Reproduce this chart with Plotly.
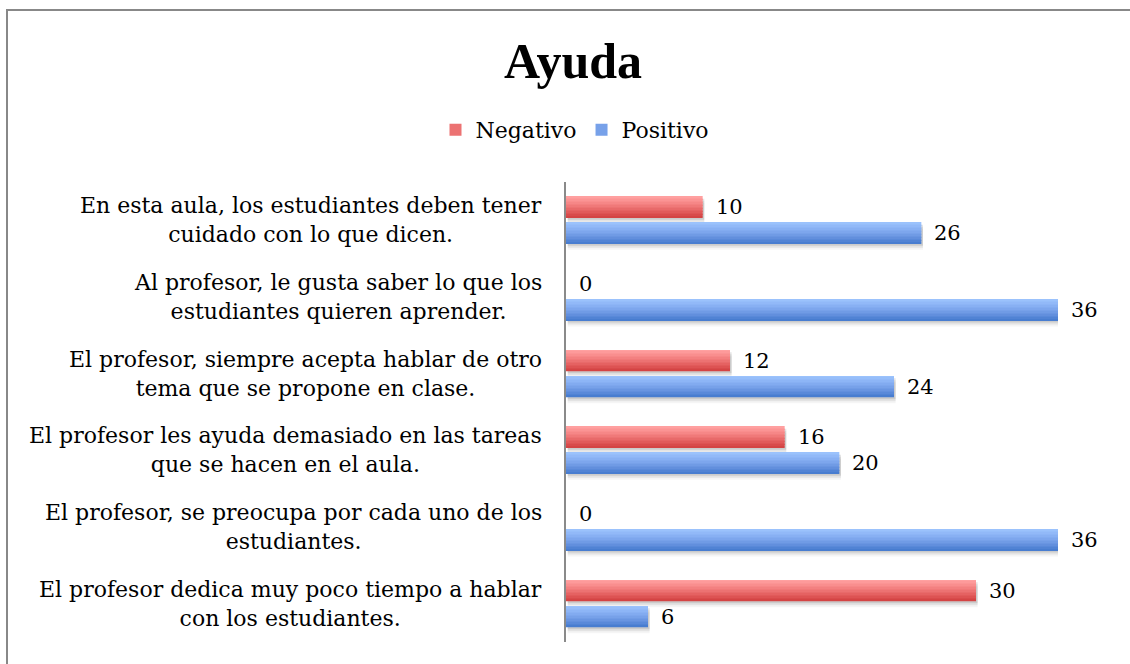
import plotly.graph_objects as go

# ---- data ----
categories = [
    "En esta aula, los estudiantes deben tener<br>cuidado con lo que dicen.",
    "Al profesor, le gusta saber lo que los<br>estudiantes quieren aprender.",
    "El profesor, siempre acepta hablar de otro<br>tema que se propone en clase.",
    "El profesor les ayuda demasiado en las tareas<br>que se hacen en el aula.",
    "El profesor, se preocupa por cada uno de los<br>estudiantes.",
    "El profesor dedica muy poco tiempo a hablar<br>con los estudiantes.",
]
negativo = [10, 0, 12, 16, 0, 30]
positivo = [26, 36, 24, 20, 36, 6]
series_names = ["Negativo", "Positivo"]

# ---- layout geometry (pixels) ----
W, H = 1130, 664
ML, MR, MT, MB = 566, 72, 182, 22
PW, PH = W - ML - MR, H - MT - MB
cat_px = PH / len(categories)
FONT = "DejaVu Serif"
TITLE_FONT = "Liberation Serif"

def px2u(p):
    return p / cat_px

def pxx(px):
    return (px - ML) / PW

def pxy(py):
    return (H - MB - py) / PH

bar_h = px2u(21)
half_gap = px2u(2.5)
# top offsets (y axis reversed => positive offset goes down)
bar_top = {"Negativo": -half_gap - bar_h, "Positivo": half_gap}

grad = {
    "Negativo": [(255, 160, 160), (248, 140, 140), (238, 118, 118), (226, 92, 92), (212, 68, 68)],
    "Positivo": [(155, 194, 252), (140, 180, 245), (122, 164, 235), (100, 145, 222), (72, 125, 208)],
}

def interp(stops, t):
    n = len(stops) - 1
    i = min(int(t * n), n - 1)
    f = t * n - i
    a, b = stops[i], stops[i + 1]
    return "rgb(%d,%d,%d)" % tuple(round(a[k] + (b[k] - a[k]) * f) for k in range(3))

fig = go.Figure()
values = {"Negativo": negativo, "Positivo": positivo}

# shadows
for name in series_names:
    for dy, a in [(px2u(2), 0.10), (px2u(4), 0.07), (px2u(6), 0.04)]:
        fig.add_trace(go.Bar(
            y=categories, x=values[name], base=0.12, orientation="h",
            offset=bar_top[name] + dy, width=bar_h,
            marker=dict(color="rgba(0,0,0,%s)" % a, line=dict(width=0)),
            showlegend=False, hoverinfo="skip"))

# gradient strips
N = 14
for name in series_names:
    sw = bar_h / N
    for k in range(N):
        t = k / (N - 1)
        fig.add_trace(go.Bar(
            y=categories, x=values[name], orientation="h",
            offset=bar_top[name] + k * sw, width=sw * 1.02,
            marker=dict(color=interp(grad[name], t), line=dict(width=0)),
            name=name, legendgroup=name,
            showlegend=(k == N // 2),
            hovertemplate="%{y}: %{x}<extra>" + name + "</extra>"))

# category labels (centered multi-line, right aligned block)
for c in categories:
    fig.add_annotation(x=0, xref="paper", y=c, yref="y", text=c,
                       xanchor="right", yanchor="middle", align="center",
                       xshift=-22, showarrow=False,
                       font=dict(family=FONT, size=22, color="black"))

# value labels
for name, ysh in [("Negativo", 13), ("Positivo", -13)]:
    for c, v in zip(categories, values[name]):
        fig.add_annotation(x=v, xref="x", y=c, yref="y", text=str(v),
                           xanchor="left", yanchor="middle", xshift=11, yshift=ysh,
                           showarrow=False,
                           font=dict(family=FONT, size=21, color="black"))

# chart border (top & left)
fig.add_shape(type="line", xref="paper", yref="paper",
              x0=pxx(6), x1=pxx(1132), y0=pxy(10), y1=pxy(10),
              line=dict(color="#888888", width=2))
fig.add_shape(type="line", xref="paper", yref="paper",
              x0=pxx(7), x1=pxx(7), y0=pxy(10), y1=pxy(666),
              line=dict(color="#888888", width=2))

fig.update_layout(
    width=W, height=H,
    margin=dict(l=ML, r=MR, t=MT, b=MB, autoexpand=False),
    paper_bgcolor="white", plot_bgcolor="white",
    barmode="overlay",
    title=dict(text="<b>Ayuda</b>", x=pxx(573), xref="paper", xanchor="center",
               y=1 - 60 / H, yref="container", yanchor="middle",
               font=dict(family=TITLE_FONT, size=50, color="black")),
    legend=dict(orientation="h", x=pxx(575), xanchor="center", y=pxy(130), yanchor="middle",
                traceorder="normal", font=dict(family=FONT, size=22, color="black"),
                itemwidth=30, bgcolor="rgba(0,0,0,0)"),
    xaxis=dict(range=[0, 36], visible=False, fixedrange=True),
    yaxis=dict(type="category", autorange="reversed", showticklabels=False,
               showgrid=False, zeroline=False, showline=True, linecolor="#8a8a8a",
               linewidth=1.5, ticks="", fixedrange=True),
    font=dict(family=FONT),
)

fig.write_html("out.html", config={"displayModeBar": False},
               post_script="document.body.style.margin='0';")
